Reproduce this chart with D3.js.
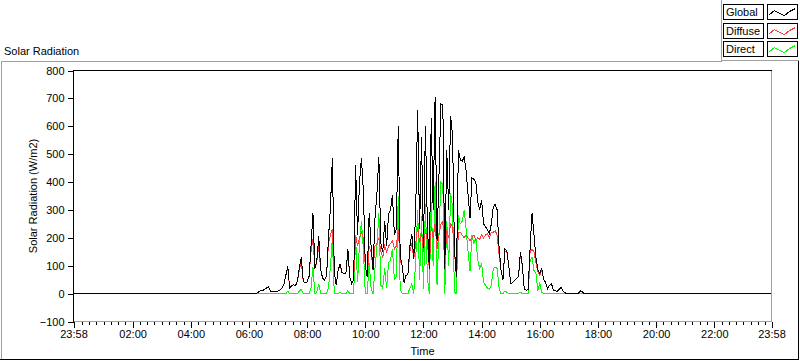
<!DOCTYPE html>
<html><head><meta charset="utf-8">
<script src="https://cdn.jsdelivr.net/npm/d3@7"></script>
<style>
html,body{margin:0;padding:0;background:#fff;}
svg{display:block;font-family:"Liberation Sans",Arial,sans-serif;font-size:11px;}
</style></head><body>
<svg id="chart" width="800" height="361"></svg>
<script>
// ---------- DATA ----------
const chartTitle = "Solar Radiation";
const yAxisTitle = "Solar Radiation (W/m2)";
const xAxisTitle = "Time";
const seriesNames = ["Global", "Diffuse", "Direct"];
const seriesColors = ["#000000", "#ff3c3c", "#00ff00"];

const yTicks = [-100, 0, 100, 200, 300, 400, 500, 600, 700, 800];
// minutes relative to 00:00 of the day; the record runs from 23:58 (day before) to 23:58
const recordStart = -2;
const recordEnd = 1438;
const xTickMinutes = [-2, 120, 240, 360, 480, 600, 720, 840, 960, 1080, 1200, 1320, 1438];
const xTickLabels = ["23:58", "02:00", "04:00", "06:00", "08:00", "10:00", "12:00", "14:00", "16:00", "18:00", "20:00", "22:00", "23:58"];
const minorTickStep = 15;

// daytime samples (every 4 minutes from 06:12); outside this window all values are 0
const startTime = "06:12";
const stepMinutes = 4;
const nightValue = 0;

const globalVals = [
  0,2,6,10,12,14,20,25,10,6,
  8,6,10,12,20,32,65,98,20,28,
  32,28,45,95,130,45,38,42,62,170,
  290,90,120,205,85,55,48,62,200,305,
  485,80,30,85,105,75,72,72,160,60,
  36,48,460,210,400,485,370,100,60,290,
  170,85,270,360,490,180,150,260,170,285,
  300,355,210,230,600,135,100,40,65,70,
  170,215,125,300,660,230,560,165,600,250,
  90,630,300,705,190,425,680,675,90,515,
  300,635,570,155,60,515,480,475,490,440,
  355,270,415,410,400,330,300,335,250,240,
  230,215,250,310,320,300,165,85,50,160,
  155,100,36,40,47,55,60,148,100,15,
  12,15,165,290,210,130,85,72,90,50,
  40,18,30,36,12,10,8,15,22,8,
  3,0,0,0,0,0,0,2,10,6,
  0,0,0,0,0,0
];
const diffuseVals = [
  0,2,6,10,12,14,20,25,10,6,
  8,6,10,12,20,32,65,90,20,28,
  32,28,45,85,115,45,38,42,62,150,
  195,90,115,170,85,55,48,62,180,210,
  230,80,30,85,100,75,72,72,150,60,
  36,48,210,170,200,220,200,100,60,170,
  150,85,170,180,200,150,130,170,150,170,
  180,190,160,170,230,120,100,40,65,70,
  150,180,125,180,240,180,220,150,230,190,
  90,240,200,250,160,210,250,260,90,230,
  200,250,240,150,60,220,220,210,200,210,
  200,190,200,210,190,200,195,210,200,210,
  215,200,220,220,225,210,140,85,50,150,
  150,100,36,40,47,55,60,140,100,15,
  12,15,150,160,150,110,80,65,85,50,
  40,18,30,36,12,10,8,15,22,8,
  3,0,0,0,0,0,0,2,10,6,
  0,0,0,0,0,0
];
const directVals = [
  0,0,0,0,0,0,0,0,0,0,
  0,0,0,0,0,0,0,8,0,0,
  0,0,0,10,15,0,0,0,0,20,
  95,0,5,35,0,0,0,0,20,95,
  200,0,0,0,5,0,0,0,10,0,
  0,0,200,40,180,260,160,0,0,110,
  20,0,90,170,290,30,20,90,20,110,
  120,160,50,60,350,15,0,0,0,0,
  20,35,0,120,300,50,280,15,320,60,
  0,330,100,400,30,215,400,390,0,260,
  100,360,310,5,0,280,250,260,300,230,
  150,80,210,180,200,120,90,110,40,30,
  20,15,30,90,95,90,20,0,0,10,
  5,0,0,0,0,0,0,5,0,0,
  0,0,120,130,83,72,10,40,5,0,
  0,0,0,0,0,0,0,0,0,0,
  0,0,0,0,0,0,0,0,0,0,
  0,0,0,0,0,0
];

// ---------- CHART ----------
const svg = d3.select("#chart");
const W = 800, H = 361;
const plot = {left: 73.5, right: 771.5, top: 70.5, bottom: 321.5};

const toMin = s => { const [h, m] = s.split(":").map(Number); return h * 60 + m; };
const t0 = toMin(startTime);

const x = d3.scaleLinear().domain([recordStart, recordEnd]).range([plot.left, plot.right]);
const y = d3.scaleLinear().domain([yTicks[0], yTicks[yTicks.length - 1]]).range([plot.bottom, plot.top]);

// outer panel frame
svg.append("rect").attr("x", 0).attr("y", 0).attr("width", W).attr("height", H).attr("fill", "#fff");
svg.append("path").attr("d", "M1.5,359.5 V61.5 H721.5").attr("fill", "none").attr("stroke", "#a0a0a0").attr("shape-rendering", "crispEdges");
svg.append("path").attr("d", "M0,359.5 H798.5 V60.5").attr("fill", "none").attr("stroke", "#000").attr("shape-rendering", "crispEdges");
// legend panel frame
svg.append("path").attr("d", "M721.5,0 V60.5 H798.5").attr("fill", "none").attr("stroke", "#a0a0a0").attr("shape-rendering", "crispEdges");

// chart title
svg.append("text").attr("x", 4).attr("y", 55).text(chartTitle);

// plot area frame (inset look)
svg.append("path").attr("d", `M${plot.right},${plot.top} V${plot.bottom} H${plot.left}`)
  .attr("fill", "none").attr("stroke", "#a0a0a0").attr("shape-rendering", "crispEdges");
svg.append("path").attr("d", `M${plot.left},${plot.bottom} V${plot.top} H${plot.right}`)
  .attr("fill", "none").attr("stroke", "#000").attr("shape-rendering", "crispEdges");

// y axis
const yAxis = svg.append("g").attr("transform", `translate(${plot.left},0)`)
  .call(d3.axisLeft(y).tickValues(yTicks).tickSize(6).tickSizeOuter(0).tickPadding(3));
yAxis.select(".domain").remove();
yAxis.selectAll("line").attr("stroke", "#000").attr("shape-rendering", "crispEdges");
yAxis.selectAll("text").attr("font-family", "Liberation Sans, Arial, sans-serif").attr("font-size", 11).attr("fill", "#000");

// x axis major ticks
const xAxis = svg.append("g").attr("transform", `translate(0,${plot.bottom})`)
  .call(d3.axisBottom(x).tickValues(xTickMinutes).tickSize(6).tickSizeOuter(0).tickPadding(3)
    .tickFormat((d, i) => xTickLabels[i]));
xAxis.select(".domain").remove();
xAxis.selectAll("line").attr("stroke", "#000").attr("shape-rendering", "crispEdges");
xAxis.selectAll("text").attr("font-family", "Liberation Sans, Arial, sans-serif").attr("font-size", 11).attr("fill", "#000");

// x axis minor ticks
const minorVals = d3.range(minorTickStep, recordEnd, minorTickStep).filter(m => m % 120 !== 0);
const xMinor = svg.append("g").attr("transform", `translate(0,${plot.bottom})`)
  .call(d3.axisBottom(x).tickValues(minorVals).tickSize(3).tickSizeOuter(0).tickFormat(""));
xMinor.select(".domain").remove();
xMinor.selectAll("line").attr("stroke", "#000").attr("shape-rendering", "crispEdges");

// axis titles
svg.append("text").attr("x", (plot.left + plot.right) / 2).attr("y", 355).attr("text-anchor", "middle").text(xAxisTitle);
svg.append("text").attr("transform", `translate(37,${(plot.top + plot.bottom) / 2}) rotate(-90)`)
  .attr("text-anchor", "middle").text(yAxisTitle);

// data
const mk = vals => vals.map((v, i) => ({t: t0 + i * stepMinutes, v}));
const globalData = [{t: recordStart, v: nightValue}, ...mk(globalVals), {t: recordEnd, v: nightValue}];
const diffuseData = mk(diffuseVals);
const directData = mk(directVals);

const line = d3.line().x(d => x(d.t)).y(d => y(d.v));
const clip = svg.append("clipPath").attr("id", "clip").append("rect")
  .attr("x", plot.left + 0.5).attr("y", plot.top + 0.5).attr("width", plot.right - plot.left - 1).attr("height", plot.bottom - plot.top - 1);
const plotG = svg.append("g").attr("clip-path", "url(#clip)");
[[directData, seriesColors[2]], [diffuseData, seriesColors[1]], [globalData, seriesColors[0]]].forEach(([d, c]) => {
  plotG.append("path").datum(d).attr("d", line).attr("fill", "none").attr("stroke", c)
    .attr("stroke-width", 1).attr("shape-rendering", "crispEdges");
});

// legend
const legRowY = [4, 22.7, 41.3];
const zig = [[2, 10], [7, 6], [12, 9], [17, 11], [22, 7], [28, 4]];
seriesNames.forEach((name, i) => {
  const ly = Math.round(legRowY[i]) + 0.5;
  svg.append("rect").attr("x", 723.5).attr("y", ly).attr("width", 40).attr("height", 15)
    .attr("fill", "#fff").attr("stroke", "#000").attr("shape-rendering", "crispEdges");
  svg.append("text").attr("x", 726).attr("y", ly + 11.5).text(name);
  svg.append("rect").attr("x", 767.5).attr("y", ly).attr("width", 30).attr("height", 15)
    .attr("fill", "#fff").attr("stroke", "#000").attr("shape-rendering", "crispEdges");
  svg.append("path").attr("d", d3.line()(zig.map(p => [767.5 + p[0], ly + p[1]])))
    .attr("fill", "none").attr("stroke", seriesColors[i]).attr("stroke-width", 1).attr("shape-rendering", "crispEdges");
});
</script></body></html>
